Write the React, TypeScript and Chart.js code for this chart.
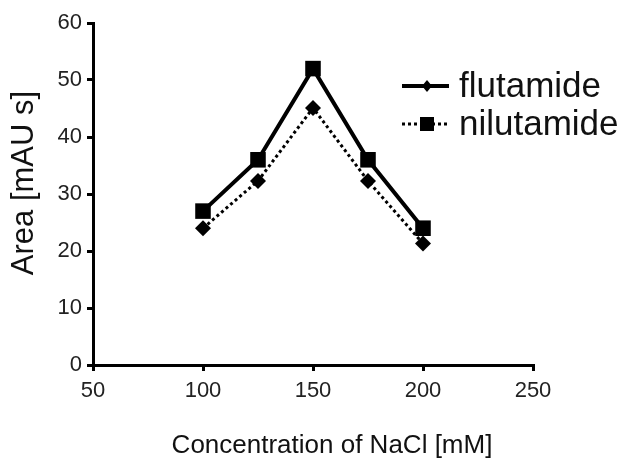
import React, { useEffect, useRef } from "react";
import { Chart, registerables } from "chart.js";

Chart.register(...registerables);

const concentrations = [100, 125, 150, 175, 200];
const squareSeries = [27, 36, 52, 36, 24];
const diamondSeries = [24, 32.3, 45.1, 32.3, 21.3];
const legendLabels = ["flutamide", "nilutamide"];
const xTitle = "Concentration of NaCl [mM]";
const yTitle = "Area [mAU s]";

const FONT = "'Liberation Sans', Arial, sans-serif";

const overlayPlugin = {
  id: "overlay",
  afterDraw(chart: any) {
    const ctx = chart.ctx as CanvasRenderingContext2D;
    ctx.save();
    ctx.fillStyle = "#000";
    ctx.strokeStyle = "#000";
    // legend item 1: solid line with diamond
    ctx.lineWidth = 4;
    ctx.setLineDash([]);
    ctx.beginPath();
    ctx.moveTo(402, 86);
    ctx.lineTo(449, 86);
    ctx.stroke();
    ctx.beginPath();
    ctx.moveTo(427, 80);
    ctx.lineTo(432, 86);
    ctx.lineTo(427, 92);
    ctx.lineTo(422, 86);
    ctx.closePath();
    ctx.fill();
    // legend item 2: dotted line with square
    ctx.lineWidth = 3;
    ctx.setLineDash([3, 3]);
    ctx.beginPath();
    ctx.moveTo(402, 124);
    ctx.lineTo(450, 124);
    ctx.stroke();
    ctx.setLineDash([]);
    ctx.fillRect(420, 117, 14, 14);
    ctx.font = `35px ${FONT}`;
    ctx.textBaseline = "alphabetic";
    ctx.textAlign = "left";
    ctx.fillStyle = "#111";
    ctx.fillText(legendLabels[0], 459, 97);
    ctx.fillText(legendLabels[1], 459, 135);
    // axis titles
    ctx.font = `26px ${FONT}`;
    ctx.textAlign = "center";
    ctx.fillText(xTitle, 332, 453);
    ctx.translate(24, 183);
    ctx.rotate(-Math.PI / 2);
    ctx.font = `31px ${FONT}`;
    ctx.textBaseline = "middle";
    ctx.fillText(yTitle, 0, 0);
    ctx.restore();
  },
};

export default function App() {
  const ref = useRef<HTMLCanvasElement>(null);
  useEffect(() => {
    if (!ref.current) return;
    const chart = new Chart(ref.current, {
      type: "line",
      data: {
        datasets: [
          {
            label: legendLabels[0],
            data: concentrations.map((x, i) => ({ x, y: squareSeries[i] })),
            borderColor: "#000",
            backgroundColor: "#000",
            borderWidth: 4,
            pointStyle: "rect",
            pointRadius: 11,
            pointBorderWidth: 0,
            tension: 0,
          },
          {
            label: legendLabels[1],
            data: concentrations.map((x, i) => ({ x, y: diamondSeries[i] })),
            borderColor: "#000",
            backgroundColor: "#000",
            borderWidth: 3,
            borderDash: [3, 3],
            pointStyle: "rectRot",
            pointRadius: 8,
            pointBorderWidth: 0,
            tension: 0,
          },
        ],
      },
      options: {
        animation: false,
        responsive: false,
        maintainAspectRatio: false,
        layout: { padding: { top: 23, right: 99, left: 0, bottom: 0 } },
        plugins: { legend: { display: false }, tooltip: { enabled: false } },
        scales: {
          x: {
            type: "linear",
            min: 50,
            max: 250,
            afterFit: (s: any) => { s.height = 95; },
            ticks: { stepSize: 50, color: "#222", font: { family: FONT, size: 22 }, padding: 7, maxRotation: 0 },
            grid: { drawOnChartArea: false, drawTicks: true, tickLength: 6, color: "#000", lineWidth: 3 },
            border: { color: "#000", width: 3 },
          },
          y: {
            min: 0,
            max: 60,
            afterFit: (s: any) => { s.width = 93; },
            ticks: { stepSize: 10, color: "#222", font: { family: FONT, size: 22 }, padding: 5 },
            grid: { drawOnChartArea: false, drawTicks: true, tickLength: 6, color: "#000", lineWidth: 3 },
            border: { color: "#000", width: 3 },
          },
        },
      },
      plugins: [overlayPlugin],
    });
    return () => chart.destroy();
  }, []);
  return (
    <div style={{ position: "fixed", left: 0, top: 0, width: 632, height: 460, background: "#fff" }}>
      <canvas ref={ref} width={632} height={460} style={{ width: 632, height: 460 }} />
    </div>
  );
}
